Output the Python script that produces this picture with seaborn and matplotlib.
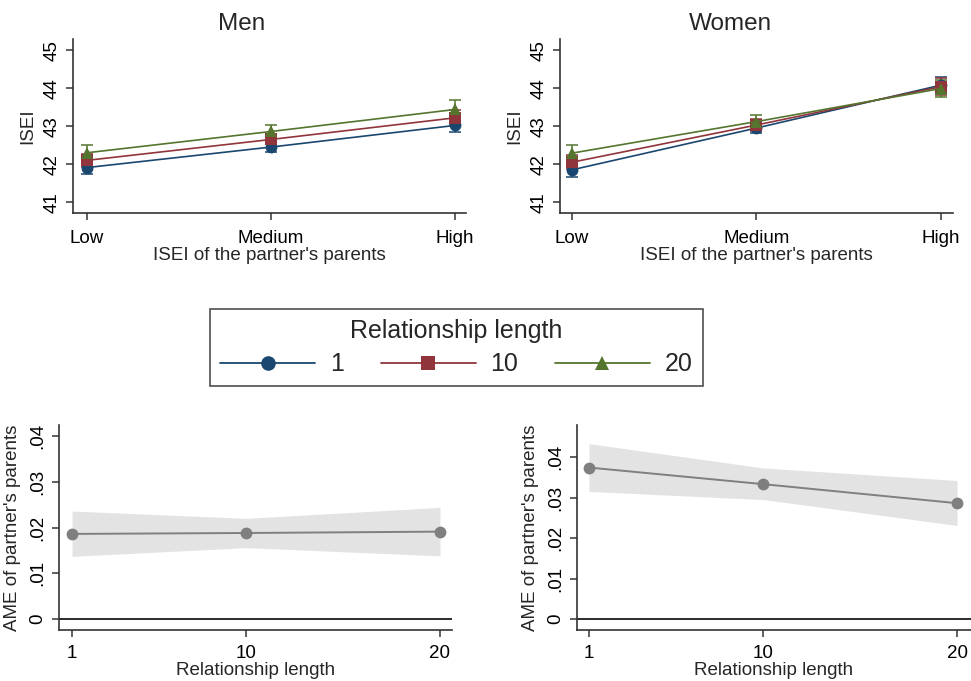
import matplotlib
matplotlib.use("Agg")
import matplotlib.pyplot as plt
from matplotlib.lines import Line2D
import pandas as pd
import seaborn as sns

# ---- data ----
levels = ["Low", "Medium", "High"]
lengths = [1, 10, 20]

men_isei_1 = [41.91, 42.45, 43.02]
men_isei_10 = [42.10, 42.65, 43.22]
men_isei_20 = [42.30, 42.86, 43.44]
men_err_1 = [0.16, 0.12, 0.17]
men_err_10 = [0.17, 0.13, 0.20]
men_err_20 = [0.20, 0.17, 0.24]

women_isei_1 = [41.85, 42.95, 44.08]
women_isei_10 = [42.05, 43.03, 44.04]
women_isei_20 = [42.29, 43.12, 43.99]
women_err_1 = [0.18, 0.14, 0.22]
women_err_10 = [0.19, 0.15, 0.22]
women_err_20 = [0.21, 0.17, 0.23]

men_ame = [0.0186, 0.0188, 0.0191]
men_ame_lo = [0.0137, 0.0156, 0.0138]
men_ame_hi = [0.0236, 0.0220, 0.0244]
women_ame = [0.0374, 0.0333, 0.0286]
women_ame_lo = [0.0315, 0.0295, 0.0231]
women_ame_hi = [0.0433, 0.0373, 0.0342]

isei_ticks = [41, 42, 43, 44, 45]
ame_ticks = [0, 0.01, 0.02, 0.03, 0.04]
ame_ticklabels = ["0", ".01", ".02", ".03", ".04"]

colors = {1: "#1a476f", 10: "#90353b", 20: "#55752f"}
markers = {1: "o", 10: "s", 20: "^"}
gray = "#7f7f7f"
axis_col = "#333333"

sns.set_theme(style="white")
plt.rcParams["font.family"] = ["Liberation Sans", "DejaVu Sans"]

fig = plt.figure(figsize=(9.71, 6.81), dpi=100)


def style_axes(ax, xpad=7):
    sns.despine(ax=ax)
    for s in ("left", "bottom"):
        ax.spines[s].set_color(axis_col)
        ax.spines[s].set_linewidth(1.2)
    ax.tick_params(axis="both", direction="out", length=5, width=1.1,
                   color=axis_col, labelsize=13.5, left=True, bottom=True,
                   colors="black")
    ax.tick_params(axis="y", labelrotation=90, pad=4)
    ax.tick_params(axis="x", pad=xpad)
    for lab in ax.get_yticklabels():
        lab.set_va("center")


def isei_panel(ax, series, errs):
    rows = []
    for ln, vals in zip(lengths, series):
        for i, v in enumerate(vals):
            rows.append({"pos": i, "isei": v, "length": ln})
    df = pd.DataFrame(rows)
    for ln, vals, err in zip(lengths, series, errs):
        ax.errorbar(range(len(levels)), vals, yerr=err, fmt="none",
                    ecolor=colors[ln], elinewidth=1.1, capsize=4, capthick=1.1,
                    zorder=2)
    sns.lineplot(data=df, x="pos", y="isei", hue="length", style="length",
                 palette=colors, markers=markers, dashes=False, markersize=8.5,
                 markeredgewidth=0, linewidth=1.2, legend=False, ax=ax,
                 zorder=3)
    ax.set_xticks(range(len(levels)))
    ax.set_xticklabels(levels)
    ax.set_yticks(isei_ticks)
    ax.set_ylim(40.71, 45.29)
    ax.set_xlabel("ISEI of the partner's parents", fontsize=13.5, labelpad=0)
    ax.set_ylabel("ISEI", fontsize=13.5, labelpad=5)
    style_axes(ax)


def ame_panel(ax, ame, lo, hi, xlim, ylim):
    df = pd.DataFrame({"length": lengths, "ame": ame})
    ax.fill_between(lengths, lo, hi, color="#e3e3e3", lw=0, zorder=1)
    ax.axhline(0, color="#2b2b2b", lw=1.4, zorder=2)
    sns.lineplot(data=df, x="length", y="ame", color=gray, marker="o",
                 markersize=8.5, markeredgewidth=0, linewidth=1.4, ax=ax,
                 zorder=3)
    ax.set_xticks(lengths)
    ax.set_yticks(ame_ticks)
    ax.set_yticklabels(ame_ticklabels)
    ax.set_xlim(*xlim)
    ax.set_ylim(*ylim)
    ax.set_xlabel("Relationship length", fontsize=13.5, labelpad=0)
    ax.set_ylabel("AME of partner's parents", fontsize=13.5, labelpad=6)
    style_axes(ax, xpad=6)


ax_men = fig.add_axes([0.0752, 0.687, 0.405, 0.2555])
isei_panel(ax_men, [men_isei_1, men_isei_10, men_isei_20],
           [men_err_1, men_err_10, men_err_20])
ax_men.set_xlim(-0.076, 2.06)

ax_women = fig.add_axes([0.5767, 0.687, 0.4047, 0.2555])
isei_panel(ax_women, [women_isei_1, women_isei_10, women_isei_20],
           [women_err_1, women_err_10, women_err_20])
ax_women.set_xlim(-0.065, 2.065)

fig.text(242 / 971, 1 - 24 / 681, "Men", ha="center", va="center", fontsize=17.5)
fig.text(730 / 971, 1 - 24 / 681, "Women", ha="center", va="center", fontsize=17.5)

ax_ame_m = fig.add_axes([0.0608, 0.0749, 0.4047, 0.301])
ame_panel(ax_ame_m, men_ame, men_ame_lo, men_ame_hi, (0.33, 20.62), (-0.0024, 0.0424))

ax_ame_w = fig.add_axes([0.5942, 0.0749, 0.4058, 0.301])
ame_panel(ax_ame_w, women_ame, women_ame_lo, women_ame_hi, (0.38, 20.72), (-0.0027, 0.0479))

handles = [Line2D([], [], color=colors[ln], marker=markers[ln], markersize=10.5,
                  markeredgewidth=0, lw=1.3) for ln in lengths]
leg = fig.legend(handles, [str(ln) for ln in lengths], title="Relationship length",
                 ncol=3, loc="center", bbox_to_anchor=(456.5 / 971, 1 - 347.5 / 681),
                 fontsize=18, title_fontsize=18, frameon=True, fancybox=False,
                 handlelength=3.8, handletextpad=0.6, columnspacing=1.45,
                 borderpad=0.4, labelspacing=0.2)
leg._legend_box.sep = 7
leg.get_frame().set_edgecolor("#222222")
leg.get_frame().set_linewidth(1.2)

fig.savefig("out.png", dpi=100)
